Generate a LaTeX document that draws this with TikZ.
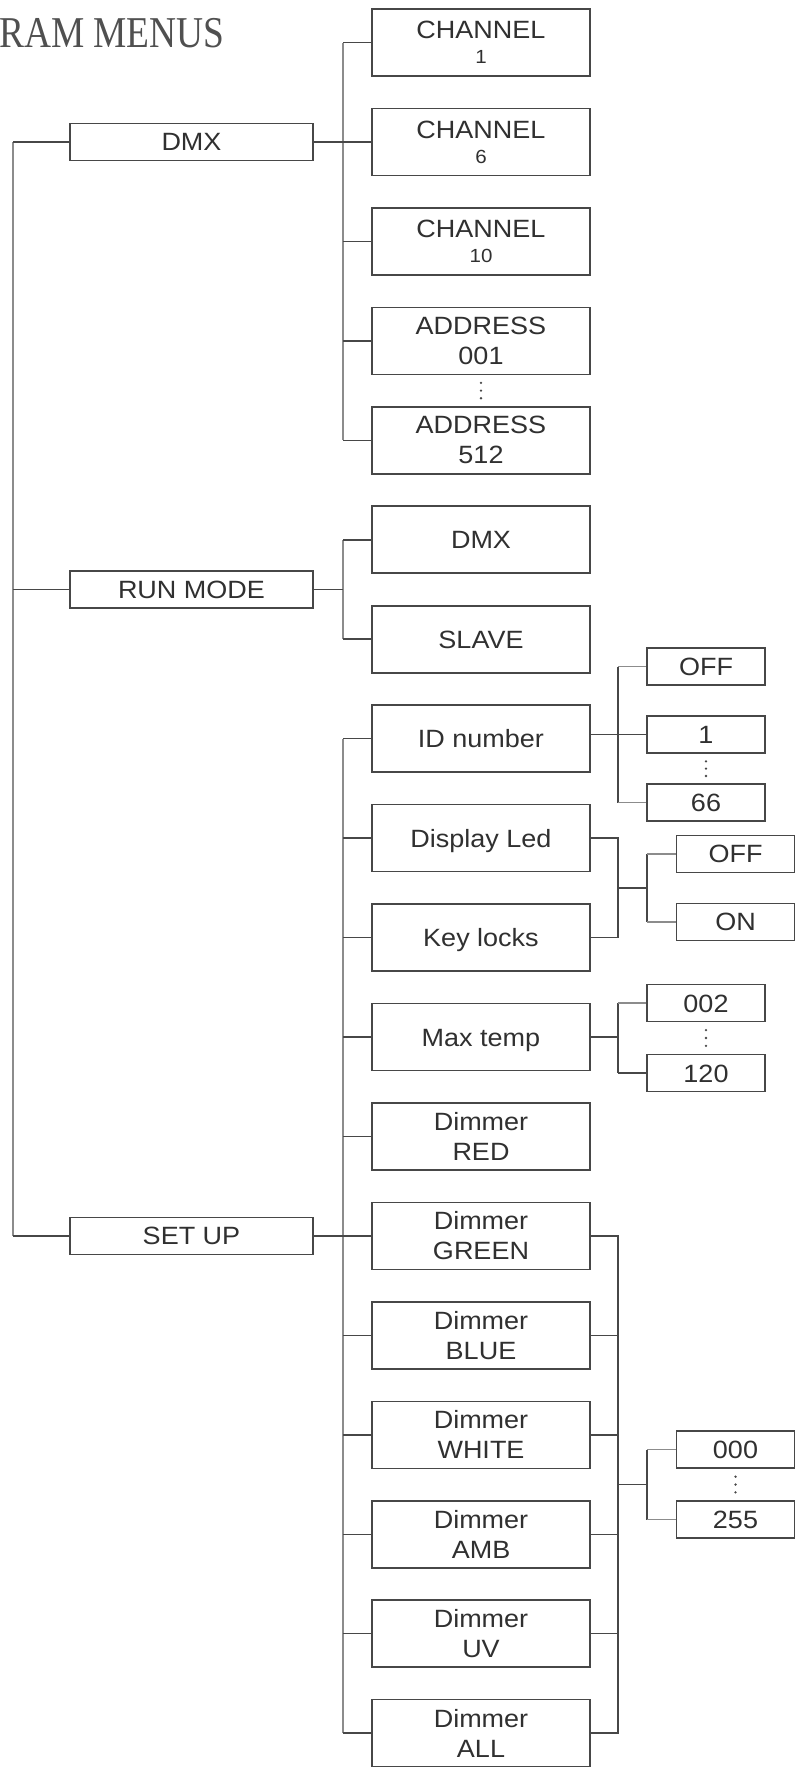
\documentclass[tikz,border=0pt]{standalone}
\usepackage{fontspec}
\setmainfont{Liberation Sans}
\newfontfamily\boxfont[FakeStretch=1.08]{Liberation Sans}
\newfontfamily\titlefont{Liberation Serif}
\usetikzlibrary{calc}
\definecolor{boxline}{HTML}{474747}
\definecolor{linkline}{HTML}{474747}
\definecolor{busline}{HTML}{8C8C8C}
\definecolor{txt}{HTML}{303030}
\definecolor{titlegray}{HTML}{505050}
\newcommand{\chnum}[1]{{\fontsize{19}{19}\selectfont #1}}
\begin{document}
\begin{tikzpicture}[x=1pt,y=-1pt,
 boxbase/.style={draw=boxline, line width=1.6pt, inner sep=0pt, text=txt,
   font=\boxfont\fontsize{25}{30}\selectfont, align=center},
 oneline/.style={text height=18pt, text depth=0pt},
 bigbox/.style={boxbase, minimum width=218pt, minimum height=67pt},
 menubox/.style={boxbase, oneline, minimum width=243pt, minimum height=37pt},
 valbox/.style={boxbase, oneline, minimum width=118pt, minimum height=37pt},
 link/.style={draw=linkline, line width=1.5pt},
 bus/.style={draw=busline, line width=1.5pt},
 dotmark/.style={fill=linkline}
]
\useasboundingbox (0,0) rectangle (795,1767);

% title
\node[anchor=base west, inner sep=0pt, text=titlegray,
  font=\titlefont\fontsize{44}{44}\selectfont] (title) at (-1,47) {\scalebox{0.85}[1]{RAM MENUS}};

% second-level column
\node[bigbox] (ch1)   at (481,{42.5+99.45*0})  {CHANNEL\\[-5pt]\chnum{1}};
\node[bigbox] (ch6)   at (481,{42.5+99.45*1})  {CHANNEL\\[-5pt]\chnum{6}};
\node[bigbox] (ch10)  at (481,{42.5+99.45*2})  {CHANNEL\\[-5pt]\chnum{10}};
\node[bigbox] (a001)  at (481,{42.5+99.45*3})  {ADDRESS\\001};
\node[bigbox] (a512)  at (481,{42.5+99.45*4})  {ADDRESS\\512};
\node[bigbox,oneline] (rdmx)  at (481,{42.5+99.45*5})  {DMX};
\node[bigbox,oneline] (slave) at (481,{42.5+99.45*6})  {SLAVE};
\node[bigbox,oneline] (id)    at (481,{42.5+99.45*7})  {ID number};
\node[bigbox,oneline] (dl)    at (481,{42.5+99.45*8})  {Display Led};
\node[bigbox,oneline] (kl)    at (481,{42.5+99.45*9})  {Key locks};
\node[bigbox,oneline] (mt)    at (481,{42.5+99.45*10}) {Max temp};
\node[bigbox] (red)   at (481,{42.5+99.45*11}) {Dimmer\\RED};
\node[bigbox] (green) at (481,{42.5+99.45*12}) {Dimmer\\GREEN};
\node[bigbox] (blue)  at (481,{42.5+99.45*13}) {Dimmer\\BLUE};
\node[bigbox] (white) at (481,{42.5+99.45*14}) {Dimmer\\WHITE};
\node[bigbox] (amb)   at (481,{42.5+99.45*15}) {Dimmer\\AMB};
\node[bigbox] (uv)    at (481,{42.5+99.45*16}) {Dimmer\\UV};
\node[bigbox] (all)   at (481,{42.5+99.45*17}) {Dimmer\\ALL};

% main menus
\node[menubox] (dmxm)   at (191.5,{42.5+99.45*1})    {DMX};
\node[menubox] (runm)   at (191.5,{42.5+99.45*5.5})  {RUN MODE};
\node[menubox] (setupm) at (191.5,{42.5+99.45*12})   {SET UP};

% value boxes
\node[valbox] (idoff) at (706,{42.5+99.45*7-72}) {OFF};
\node[valbox] (idone) at (706,{42.5+99.45*7-4})  {1};
\node[valbox] (idsix) at (706,{42.5+99.45*7+64}) {66};

\coordinate (dk) at (618,{42.5+99.45*8.5});
\node[valbox] (dloff) at (735.5,{42.5+99.45*8.5-34}) {OFF};
\node[valbox] (dlon)  at (735.5,{42.5+99.45*8.5+34}) {ON};

\node[valbox] (tlow)  at (706,{42.5+99.45*10-34}) {002};
\node[valbox] (thigh) at (706,{42.5+99.45*10+36}) {120};

\coordinate (dm) at (618,{42.5+99.45*14.5});
\node[valbox] (vlow)  at (735.5,{42.5+99.45*14.5-35}) {000};
\node[valbox] (vhigh) at (735.5,{42.5+99.45*14.5+35}) {255};

% bus x positions
\coordinate (L) at (13,0);
\coordinate (B) at (343,0);
\coordinate (R) at (618,0);
\coordinate (S) at (647,0);

% left main bus
\draw[bus] (dmxm.west -| L) -- (setupm.west -| L);
\foreach \n in {dmxm,runm,setupm} \draw[link] (\n.west -| L) -- (\n.west);

% DMX group
\draw[bus] (ch1.west -| B) -- (a512.west -| B);
\draw[link] (dmxm.east) -- (dmxm.east -| B);
\foreach \n in {ch1,ch6,ch10,a001,a512} \draw[link] (\n.west -| B) -- (\n.west);

% RUN MODE group
\draw[bus] (rdmx.west -| B) -- (slave.west -| B);
\draw[link] (runm.east) -- (runm.east -| B);
\foreach \n in {rdmx,slave} \draw[link] (\n.west -| B) -- (\n.west);

% SET UP group
\draw[bus] (id.west -| B) -- (all.west -| B);
\draw[link] (setupm.east) -- (setupm.east -| B);
\foreach \n in {id,dl,kl,mt,red,green,blue,white,amb,uv,all} \draw[link] (\n.west -| B) -- (\n.west);

% ID number values
\draw[link] (id.east |- idone.west) -- (idone.west);
\draw[link] (idoff.west -| R) -- (idsix.west -| R);
\draw[bus] (idoff.west -| R) -- (idoff.west);
\draw[bus] (idsix.west -| R) -- (idsix.west);

% Display Led / Key locks values
\draw[link] (dl.east) -- (dl.east -| R) -- (kl.east -| R) -- (kl.east);
\draw[link] (dk) -- (dk -| S);
\draw[link] (dloff.west -| S) -- (dlon.west -| S);
\draw[bus] (dloff.west -| S) -- (dloff.west);
\draw[bus] (dlon.west -| S) -- (dlon.west);

% Max temp values
\draw[link] (mt.east) -- (mt.east -| R);
\draw[link] (tlow.west -| R) -- (thigh.west -| R);
\draw[bus] (tlow.west -| R) -- (tlow.west);
\draw[link] (thigh.west -| R) -- (thigh.west);

% Dimmer values
\draw[link] (green.east) -- (green.east -| R) -- (all.east -| R) -- (all.east);
\foreach \n in {blue,white,amb,uv} \draw[link] (\n.east) -- (\n.east -| R);
\draw[link] (dm) -- (dm -| S);
\draw[link] (vlow.west -| S) -- (vhigh.west -| S);
\draw[bus] (vlow.west -| S) -- (vlow.west);
\draw[bus] (vhigh.west -| S) -- (vhigh.west);

% vertical ellipses
\foreach \a/\b in {a001/a512, idone/idsix, tlow/thigh, vlow/vhigh}
  \foreach \t in {0.25,0.5,0.75}
    \fill[dotmark] ($(\a.south)!\t!(\b.north)$) circle (1.3pt);
\end{tikzpicture}
\end{document}
